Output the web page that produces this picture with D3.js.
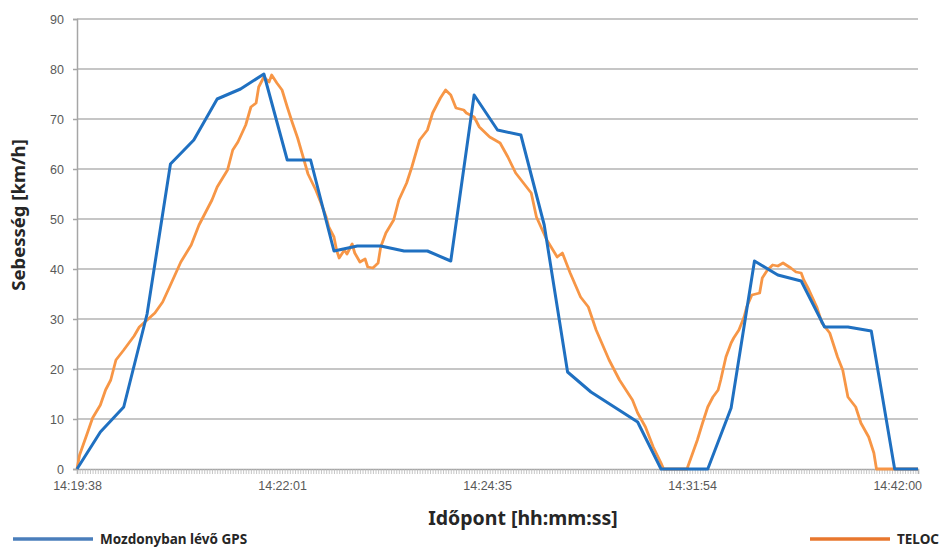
<!DOCTYPE html>
<html>
<head>
<meta charset="utf-8">
<script src="https://cdnjs.cloudflare.com/ajax/libs/d3/7.8.5/d3.min.js"></script>
<style>
  body { margin: 0; background: #fff; }
  svg { font-family: "Noto Sans", "Open Sans", sans-serif; }
  .tick text { fill: #595959; font-size: 12.5px; }
</style>
</head>
<body>
<div id="chart"></div>
<script>
// Data (category index along the x axis, speed in km/h)
var categoryCount = 325;
var tickLabels = ["14:19:38", "14:22:01", "14:24:35", "14:31:54", "14:42:00"];
var tickLabelIdx = [0, 79, 158, 237, 316];
var yTicks = [0, 10, 20, 30, 40, 50, 60, 70, 80, 90];

// GPS on the locomotive: one point every 9 categories
var gpsIdx = [0, 9, 18, 27, 36, 45, 54, 63, 72, 81, 90, 99, 108, 117, 126, 135, 144, 153, 162,
  171, 180, 189, 198, 207, 216, 225, 234, 243, 252, 261, 270, 279, 288, 297, 306, 315, 324];
var gpsSpeed = [0, 7.4, 12.4, 31, 61, 65.8, 74, 76, 79, 61.8, 61.8, 43.6, 44.6, 44.6, 43.6, 43.6, 41.6, 74.8, 67.8,
  66.8, 48.8, 19.4, 15.4, 12.4, 9.4, 0, 0, 0, 12.2, 41.6, 38.8, 37.6, 28.4, 28.4, 27.6, 0, 0];

// TELOC recorder
var telocIdx = [0, 1, 4, 6, 9, 11, 13, 15, 18, 22, 24, 27, 30, 33, 36, 40, 44, 47, 52, 54, 58, 60, 62, 65, 67, 69,
  70, 72, 74, 75, 77, 79, 81, 83, 85, 87, 89, 92, 94, 96, 97, 99, 100, 101, 103, 104, 106, 107, 109, 111,
  112, 114, 116, 117, 119, 122, 124, 127, 129, 132, 135, 137, 140, 142, 144, 146, 149, 150, 153, 155, 159,
  163, 166, 169, 172, 175, 177, 181, 185, 187, 190, 194, 197, 200, 205, 209, 214, 216, 219, 222, 225, 226,
  235, 239, 241, 243, 245, 247, 248, 250, 252, 253, 255, 257, 258, 260, 263, 264, 266, 268, 270, 272, 275,
  277, 279, 280, 282, 285, 287, 290, 293, 295, 297, 300, 302, 305, 307, 308, 324];
var telocSpeed = [0, 2.8, 7.2, 10.2, 12.8, 15.8, 17.8, 21.8, 23.8, 26.6, 28.4, 29.8, 31.2, 33.4, 36.8, 41.4, 44.8,
  48.8, 53.8, 56.4, 59.8, 63.8, 65.4, 68.8, 72.4, 73.2, 76.4, 78.4, 77.4, 78.8, 77.2, 75.8, 72.4, 69.2, 66.2,
  62.6, 59, 55.8, 53.2, 50.4, 48.4, 46.4, 43.8, 42.2, 43.8, 43, 45, 43.2, 41.4, 42, 40.4, 40.2, 41.2, 44.4,
  47.2, 49.8, 53.8, 57.2, 60.4, 65.8, 67.8, 71.2, 74.2, 75.8, 74.8, 72.2, 71.8, 71.2, 70.4, 68.4, 66.4, 65.2,
  62.4, 59.2, 57.2, 55.2, 50.4, 45.8, 42.4, 43.2, 39.2, 34.4, 32.4, 27.8, 21.8, 17.8, 13.8, 11.2, 8.4, 4.4,
  1.2, 0, 0, 5.8, 9.2, 12.4, 14.4, 15.8, 17.8, 22.4, 25.2, 26.2, 27.8, 30.4, 32.4, 34.8, 35.2, 38.2, 39.8,
  40.8, 40.6, 41.2, 40.2, 39.4, 39.2, 37.8, 35.8, 32.4, 29.2, 27.2, 22.4, 19.8, 14.4, 12.4, 9.2, 6.4, 3.2,
  0, 0];

var seriesNames = ["Mozdonyban lévő GPS", "TELOC"];
var seriesColors = ["#1f70c1", "#f79646"];

var width = 939;
var height = 547;
var plotLeft = 77, plotRight = 918, plotTop = 19, plotBottom = 469;

var svg = d3.select("#chart")
  .append("svg")
  .attr("width", width)
  .attr("height", height);

var xScale = d3.scaleLinear()
  .domain([0, categoryCount - 1])
  .range([plotLeft, plotRight]);

var yScale = d3.scaleLinear()
  .domain([0, 90])
  .range([plotBottom, plotTop]);

// horizontal grid lines
svg.append("g")
  .selectAll("line")
  .data(yTicks.slice(1))
  .enter()
  .append("line")
  .attr("x1", plotLeft)
  .attr("x2", plotRight)
  .attr("y1", function(d) { return yScale(d); })
  .attr("y2", function(d) { return yScale(d); })
  .attr("stroke", "#b3b3b3")
  .attr("stroke-width", 1.5);

// y axis
var yAxis = d3.axisLeft(yScale).tickValues(yTicks).tickSize(4).tickPadding(9);
var yG = svg.append("g")
  .attr("transform", "translate(" + plotLeft + ",0)")
  .call(yAxis);
yG.select(".domain").attr("stroke", "#a6a6a6").attr("stroke-width", 1.5);
yG.selectAll(".tick line").attr("stroke", "#a6a6a6").attr("stroke-width", 1.5);

// x axis: minor tick on every category, labels on a few
var allIdx = d3.range(categoryCount);
var xAxisMinor = d3.axisBottom(xScale).tickValues(allIdx).tickSize(5).tickFormat("");
var xG = svg.append("g")
  .attr("transform", "translate(0," + plotBottom + ")")
  .call(xAxisMinor);
xG.select(".domain").attr("stroke", "#a6a6a6").attr("stroke-width", 1.5);
xG.selectAll(".tick line").attr("stroke", "#b8b8b8").attr("stroke-width", 0.8);

var xAxisLabels = d3.axisBottom(xScale)
  .tickValues(tickLabelIdx)
  .tickSize(0)
  .tickPadding(12)
  .tickFormat(function(d, i) { return tickLabels[i]; });
var xL = svg.append("g")
  .attr("transform", "translate(0," + plotBottom + ")")
  .call(xAxisLabels);
xL.select(".domain").remove();

// lines
var line = d3.line()
  .x(function(d) { return xScale(d[0]); })
  .y(function(d) { return yScale(d[1]); });

var telocData = telocIdx.map(function(d, i) { return [d, telocSpeed[i]]; });
var gpsData = gpsIdx.map(function(d, i) { return [d, gpsSpeed[i]]; });

svg.append("path")
  .datum(telocData)
  .attr("fill", "none")
  .attr("stroke", seriesColors[1])
  .attr("stroke-width", 2.8)
  .attr("stroke-linejoin", "round")
  .attr("d", line);

svg.append("path")
  .datum(gpsData)
  .attr("fill", "none")
  .attr("stroke", seriesColors[0])
  .attr("stroke-width", 3)
  .attr("stroke-linejoin", "round")
  .attr("d", line);

// axis titles
svg.append("text")
  .attr("transform", "translate(25,215) rotate(-90)")
  .attr("text-anchor", "middle")
  .attr("font-size", 18.5)
  .attr("font-weight", "bold")
  .attr("fill", "#262626")
  .text("Sebesség [km/h]");

svg.append("text")
  .attr("x", 523)
  .attr("y", 525)
  .attr("text-anchor", "middle")
  .attr("font-size", 19.5)
  .attr("font-weight", "bold")
  .attr("fill", "#262626")
  .text("Időpont [hh:mm:ss]");

// legend
var legendX = [13, 810];
seriesNames.forEach(function(name, i) {
  svg.append("line")
    .attr("x1", legendX[i])
    .attr("x2", legendX[i] + 80)
    .attr("y1", 539)
    .attr("y2", 539)
    .attr("stroke", i === 0 ? "#4a7ebb" : "#e8772e")
    .attr("stroke-width", 3.5);
  svg.append("text")
    .attr("x", legendX[i] + 87)
    .attr("y", 544)
    .attr("font-size", 13.5)
    .attr("font-weight", "bold")
    .attr("fill", "#262626")
    .text(name);
});
</script>
</body>
</html>
